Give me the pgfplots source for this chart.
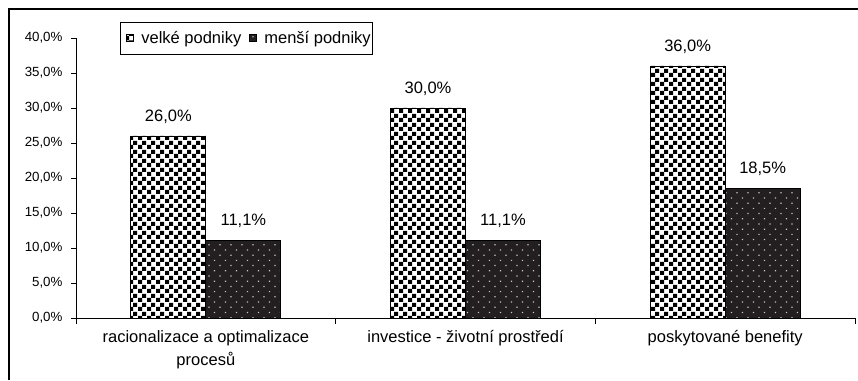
\documentclass[border=0pt]{standalone}
\usepackage{fontspec}
\setmainfont{Liberation Sans}
\usepackage{pgfplots}
\pgfplotsset{compat=1.18}
\usetikzlibrary{patterns}
\definecolor{darkbar}{HTML}{231F20}
\definecolor{dotcol}{HTML}{C8C8C8}
\pgfdeclarepatternformonly{mychecker}{\pgfpointorigin}{\pgfqpoint{8.6pt}{8.6pt}}{\pgfqpoint{8.6pt}{8.6pt}}{%
 \pgfpathrectangle{\pgfpointorigin}{\pgfqpoint{4.3pt}{4.3pt}}%
 \pgfpathrectangle{\pgfqpoint{4.3pt}{4.3pt}}{\pgfqpoint{4.3pt}{4.3pt}}%
 \pgfusepath{fill}}
\pgfdeclarepatternformonly{mydots}{\pgfqpoint{-1pt}{-1pt}}{\pgfqpoint{10pt}{10pt}}{\pgfqpoint{11pt}{10.4pt}}{%
 \pgfpathrectangle{\pgfqpoint{-0.6pt}{-0.6pt}}{\pgfqpoint{1.2pt}{1.2pt}}%
 \pgfpathrectangle{\pgfqpoint{4.9pt}{4.6pt}}{\pgfqpoint{1.2pt}{1.2pt}}%
 \pgfusepath{fill}}
\pgfplotsset{mylegend/.style={legend image code/.code={\draw[##1, line width=0.6pt] (0pt,-3.5pt) rectangle (7pt,3.5pt); \pgfpathmoveto{\pgfqpoint{-6pt}{0pt}}\pgfpathlineto{\pgfqpoint{13pt}{0pt}}\pgfusepath{}}}}
\begin{document}
\begin{tikzpicture}[font=\fontsize{16.5}{20}\selectfont]
\useasboundingbox (0pt,0pt) rectangle (858pt,380pt);
\draw[line width=1.3pt] (9pt,0pt) -- (9pt,371pt) -- (858pt,371pt);
\begin{axis}[
  at={(76pt,62pt)}, anchor=south west,
  scale only axis, width=779pt, height=280pt,
  xmin=0.5, xmax=3.5, ymin=0, ymax=40,
  axis x line*=bottom, axis y line*=left,
  axis line style={black, line width=0.75pt},
  ybar=0pt, bar width=75pt,
  every axis plot/.append style={mylegend},
  xtick={1,2,3},
  xticklabels={{racionalizace a optimalizace\\procesů},{investice - životní prostředí},{poskytované benefity}},
  xticklabel style={align=center, font=\fontsize{16.5}{23}\selectfont, yshift=-4pt},
  major x tick style={draw=none},
  minor xtick={0.5,1.5,2.5,3.5},
  minor tick length=6pt,
  minor x tick style={black, line width=0.75pt},
  ytick={0,5,...,40},
  yticklabel={\pgfmathprintnumber[fixed,fixed zerofill,precision=1,use comma,assume math mode=true]{\tick}\%},
  yticklabel style={font=\fontsize{13.3}{16}\selectfont, xshift=-5pt},
  tick align=outside, major tick length=5pt,
  y tick style={black, line width=0.75pt},
  nodes near coords={\pgfmathprintnumber[fixed,fixed zerofill,precision=1,use comma,assume math mode=true]{\pgfplotspointmeta}\%},
  every node near coord/.append style={anchor=south, yshift=9pt, black, font=\fontsize{16.5}{20}\selectfont},
  legend columns=2,
  legend style={at={(0.0565,1.057)}, anchor=north west, draw=black, line width=0.75pt,
     font=\fontsize{16.5}{20}\selectfont, inner xsep=0pt, inner ysep=7pt},
  clip=false,
]
\addplot[draw=black, line width=0.8pt, fill=white, postaction={pattern=mychecker, pattern color=black}]
  coordinates {(1,26.0) (2,30.0) (3,36.0)};
\addplot[draw=black, line width=0.8pt, fill=darkbar, postaction={pattern=mydots, pattern color=dotcol}]
  coordinates {(1,11.1) (2,11.1) (3,18.5)};
\legend{velké podniky, menší podniky}
\end{axis}
\end{tikzpicture}
\end{document}
